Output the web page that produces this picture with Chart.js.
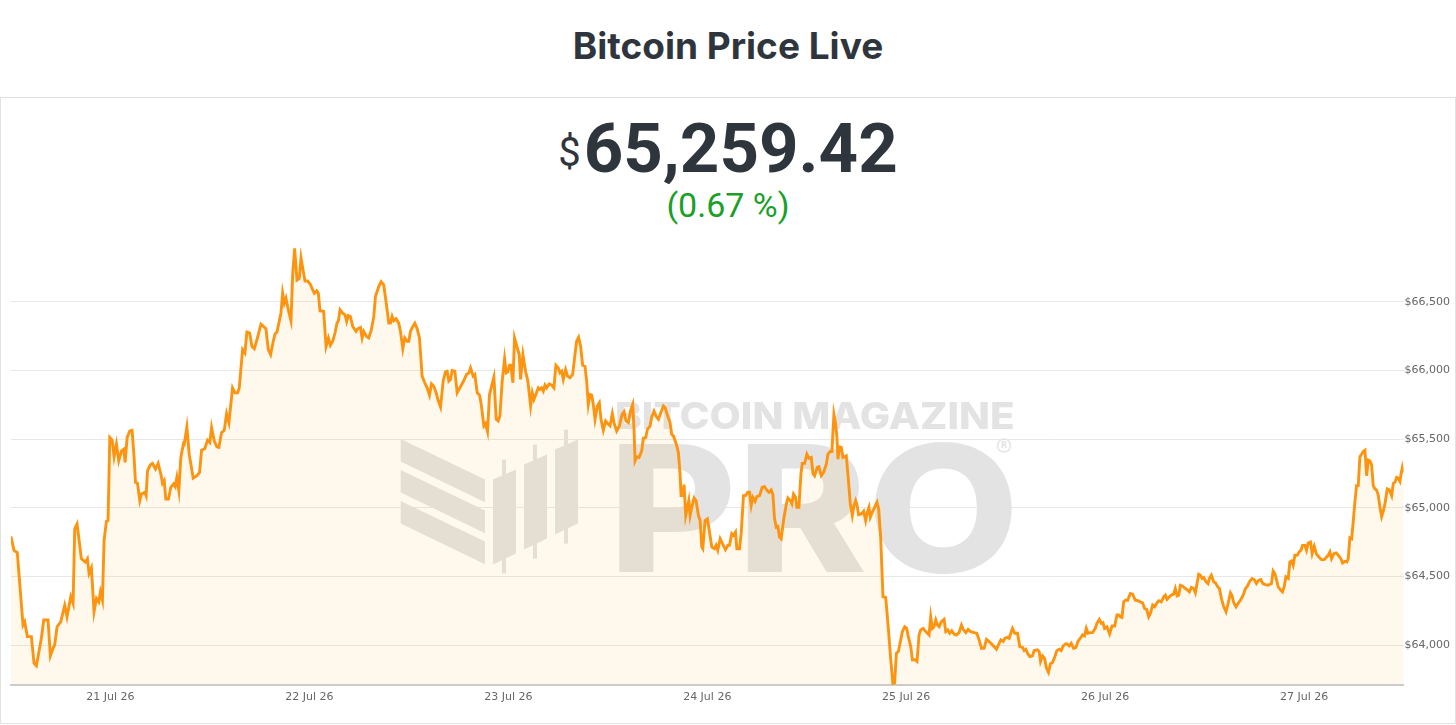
<!DOCTYPE html>
<html>
<head>
<meta charset="utf-8">
<title>Bitcoin Price Live</title>
<script src="https://cdn.jsdelivr.net/npm/chart.js@4.4.1/dist/chart.umd.min.js"></script>
<style>
  html, body { margin: 0; padding: 0; background: #fff; }
  body { width: 1456px; height: 725px; position: relative; overflow: hidden; font-family: Roboto, "Noto Sans", sans-serif; color: #2f353d; }
  #title { position: absolute; left: 0; width: 1456px; top: 27px; text-align: center; font-family: Inter, Roboto, sans-serif; font-size: 37px; line-height: 37px; font-weight: 700; }
  #box { position: absolute; left: 0; top: 97px; width: 1454px; height: 625px; border: 1px solid #e2e2e2; }
  #price { position: absolute; left: 0; width: 1456px; top: 114px; text-align: center; font-size: 69px; line-height: 69px; font-weight: 700; }
  #price .cur { font-size: 40px; font-weight: 400; margin-right: 3px; position: relative; top: -6px; }
  #change { position: absolute; left: 0; width: 1456px; top: 188px; text-align: center; font-size: 34px; line-height: 34px; color: #1a9f29; }
  #chart { position: absolute; left: 0; top: 240px; }
</style>
</head>
<body>
<div id="title">Bitcoin Price Live</div>
<div id="box"></div>
<div id="price"><span class="cur">$</span>65,259.42</div>
<div id="change">(0.67 %)</div>
<canvas id="chart" width="1452" height="470"></canvas>
<script>
// hours counted from 21 Jul 26 00:00
const hours = [
  -12.0, -11.64, -11.24, -10.55, -10.35, -10.03, -9.54, -9.22, -8.94, -8.66, -8.34, -8.05, -7.53, -7.25, -6.93, -6.73,
  -6.44, -6.0, -5.52, -5.24, -4.79, -4.51, -4.31, -4.03, -3.51, -3.02, -2.78, -2.58, -2.30, -1.98, -1.69, -1.41, -1.21,
  -0.97, -0.77, -0.49, -0.29, -0.08, 0.20, 0.44, 0.72, 1.0, 1.33, 1.61, 1.77, 2.01, 2.33, 2.61, 2.85, 3.02, 3.26, 3.54,
  3.74, 4.14, 4.30, 4.47, 4.79, 5.07, 5.43, 5.75, 6.08, 6.28, 6.48, 6.68, 7.0, 7.28, 7.61, 7.81, 8.01, 8.25, 8.49, 8.81,
  8.90, 9.22, 9.50, 9.98, 10.43, 10.75, 10.99, 11.39, 11.71, 11.99, 12.20, 12.52, 12.84, 13.08, 13.40, 13.73, 14.01,
  14.29, 14.73, 15.02, 15.34, 15.54, 15.94, 16.22, 16.46, 16.79, 17.07, 17.35, 17.67, 18.16, 18.76, 19.04, 19.32, 19.64,
  19.85, 20.09, 20.57, 20.77, 20.97, 21.17, 21.50, 21.78, 21.98, 22.22, 22.50, 22.78, 22.99, 23.27, 23.47, 23.79, 24.11,
  24.40, 24.60, 24.88, 25.08, 25.28, 25.72, 26.01, 26.29, 26.53, 26.81, 27.09, 27.33, 27.50, 27.70, 28.02, 28.30, 28.50,
  28.70, 28.94, 29.23, 29.63, 29.83,
  30.16, 30.36, 30.56, 30.88, 31.16, 31.48, 31.77, 31.97, 32.37, 32.65, 32.97, 33.30, 33.58, 33.78, 33.98, 34.18, 34.46,
  34.78, 34.99, 35.27, 35.51, 35.79, 35.99, 36.19, 36.48, 36.72, 37.00, 37.28, 37.60, 37.92, 38.21, 38.49, 38.73, 39.01,
  39.29, 39.53, 39.82, 40.14, 40.42, 40.62, 40.82, 41.02, 41.23, 41.55, 41.83, 42.15, 42.63, 42.96, 43.24, 43.44, 43.76,
  43.96, 44.25, 44.53, 44.73, 45.05, 45.25, 45.49, 45.73, 46.26, 46.54, 46.78, 46.98, 47.26, 47.55, 47.75, 47.95, 48.15,
  48.31, 48.55, 48.75, 49.08, 49.32, 49.48, 49.76, 50.08, 50.36, 50.69, 50.89, 51.09,
  51.41, 51.61, 51.81, 52.01, 52.22, 52.42, 52.62, 52.94, 53.22, 53.50, 53.74, 54.03, 54.23, 54.43, 54.63, 54.91, 55.15,
  55.44, 55.76, 56.04, 56.24, 56.48, 56.72, 56.97, 57.25, 57.45, 57.65, 57.85, 58.05, 58.25, 58.46, 58.74, 58.98, 59.18,
  59.46, 59.74, 59.99, 60.27, 60.55, 60.75, 61.07, 61.40, 61.72, 61.96, 62.20, 62.48, 62.76, 63.01, 63.17, 63.29, 63.49,
  63.77, 64.09, 64.29, 64.58, 64.78, 65.10, 65.30, 65.58, 65.82, 66.11, 66.39, 66.71, 66.91, 67.23, 67.51, 67.71, 67.92,
  68.24, 68.52, 68.72, 68.84, 69.04, 69.20, 69.40, 69.61, 69.77, 69.93, 70.13, 70.41, 70.65, 70.94, 71.14, 71.34, 71.46,
  71.74, 72.02, 72.27, 72.55,
  72.67, 72.87, 73.07, 73.27, 73.56, 73.88, 74.20, 74.48, 74.68, 74.96, 75.17, 75.41, 75.57, 75.89, 76.09, 76.37, 76.62,
  76.90, 77.10, 77.30, 77.50, 77.78, 77.98, 78.31, 78.63, 78.91, 79.23, 79.43, 79.71, 79.92, 80.12, 80.32, 80.52, 80.72,
  80.92, 81.20, 81.53, 81.73, 82.01, 82.21, 82.41, 82.65, 82.81, 83.06, 83.30, 83.46, 83.74, 84.02, 84.26, 84.55, 84.75,
  84.95, 85.27, 85.47, 85.76, 86.04, 86.36, 86.56, 86.84, 87.04, 87.28, 87.48, 87.65, 87.77, 87.97, 88.17, 88.37, 88.57,
  88.77, 88.97, 89.26, 89.50, 89.70, 89.90, 90.06, 90.26, 90.58, 90.87, 91.11, 91.31, 91.51, 91.67, 91.91, 92.20, 92.48,
  92.68, 92.92, 93.20, 93.52, 93.68, 93.93, 94.13,
  94.41, 94.60, 94.82, 95.06, 95.26, 95.54, 95.82, 96.06, 96.26, 96.55, 96.75, 97.07, 97.31, 97.55, 97.75, 98.04, 98.36,
  98.76, 98.96, 99.16, 99.36, 99.57, 99.77, 99.97, 100.25, 100.57, 100.77, 101.02, 101.26, 101.50, 101.78, 102.06,
  102.38, 102.67, 102.87, 103.19, 103.47, 103.79, 104.20, 104.52, 104.80, 105.08, 105.40, 105.69, 106.01, 106.33,
  106.61, 106.89, 107.13, 107.42, 107.70, 107.94, 108.22, 108.42, 108.62, 108.83, 109.11, 109.43, 109.71, 110.03,
  110.23, 110.44, 110.64, 110.92, 111.24, 111.44, 111.85, 112.05, 112.21, 112.45, 112.69, 112.93, 113.17, 113.41,
  113.66, 113.94, 114.18, 114.46, 114.70, 114.94,
  115.19, 115.39, 115.67, 115.91, 116.20, 116.48, 116.72, 117.00, 117.28, 117.52, 117.73, 117.93, 118.21, 118.49,
  118.81, 119.01, 119.30, 119.54, 119.74, 119.94, 120.22, 120.54, 120.83, 121.15, 121.43, 121.63, 121.83, 122.03,
  122.24, 122.44, 122.72, 123.04, 123.32, 123.64, 123.97, 124.25, 124.53, 124.77, 125.01, 125.26, 125.46, 125.74,
  125.98, 126.26, 126.46, 126.78, 127.07, 127.27, 127.47, 127.75, 127.99, 128.27, 128.47, 128.68, 128.88, 129.08,
  129.36, 129.68, 129.96, 130.17, 130.41, 130.69, 130.89, 131.09, 131.29, 131.50, 131.70, 131.90, 132.18, 132.42,
  132.58, 132.82, 133.11, 133.31, 133.59, 133.79, 134.03, 134.31, 134.59, 134.84, 135.12, 135.32, 135.52, 135.80,
  136.04, 136.33,
  136.65, 136.93, 137.17, 137.46, 137.74, 137.98, 138.26, 138.54, 138.79, 139.03, 139.35, 139.67, 140.07, 140.27,
  140.48, 140.68, 140.88, 141.20, 141.40, 141.60, 141.81, 142.09, 142.29, 142.49, 142.69, 142.89, 143.17, 143.41,
  143.62, 143.82, 144.10, 144.30, 144.50, 144.78, 144.98, 145.23, 145.51, 145.79, 146.11, 146.43, 146.72, 146.92,
  147.12, 147.32, 147.60, 147.88, 148.13, 148.45, 148.65, 148.93, 149.17, 149.33, 149.53, 149.74, 149.94, 150.14,
  150.34, 150.54, 150.74, 150.94, 151.14, 151.35, 151.55, 151.75, 151.95, 152.15, 152.35, 152.55, 152.75, 152.96,
  153.16, 153.36, 153.56, 153.76, 154.04, 154.29, 154.57, 154.77, 154.97, 155.17, 155.37, 155.57, 155.70, 155.86, 156.0
];

const prices = [
  64792, 64691, 64674, 64147, 64171, 64063, 64063, 63870, 63850, 63942, 64051, 64184, 64184, 63923, 63978, 64002,
  64135, 64171, 64292, 64208, 64353, 64304, 64848, 64884, 64630, 64606, 64630, 64522, 64563, 64244, 64341, 64316, 64389,
  64328, 64763, 64901, 64908, 65512, 65493, 65372, 65464, 65343, 65415, 65427, 65331, 65512, 65560, 65565, 65367, 65186, 65179, 65053,
  65101, 65114, 65089, 65270, 65312, 65324, 65283, 65324, 65246, 65179, 65198, 65065, 65065, 65150, 65174, 65155, 65222, 65126, 65367, 65469,
  65464, 65589, 65391, 65217, 65234, 65258, 65420, 65432, 65493, 65476, 65585, 65488, 65444, 65440, 65548, 65565, 65686,
  65621, 65874, 65838, 65838, 65874, 66152, 66128, 66280, 66273, 66176, 66159, 66224, 66338, 66304, 66152, 66116, 66213,
  66266, 66280, 66418, 66563, 66490, 66527, 66430, 66362, 66696, 66889, 66659, 66671, 66821, 66720, 66652, 66652, 66628,
  66587, 66563, 66580, 66563, 66435, 66430, 66176, 66237, 66184, 66213, 66273, 66345, 66362, 66442, 66418, 66406, 66357,
  66401, 66394, 66321, 66285, 66304,
  66314, 66237, 66285, 66249, 66237, 66297, 66394, 66539, 66611, 66647, 66623, 66478, 66345, 66345, 66394, 66362, 66377,
  66345, 66285, 66159, 66237, 66213, 66213, 66285, 66321, 66345, 66304, 66237, 65959, 65911, 65874, 65821, 65903, 65886,
  65838, 65783, 65734, 65923, 65990, 65995, 65923, 65935, 66000, 65995, 65838, 65874, 65927, 65971, 65983, 66019, 65959,
  65971, 65838, 65821, 65754, 65597, 65614, 65556, 65826, 65952, 65645, 65633, 65669, 65923, 66087, 65983, 65990, 66039,
  66039, 65911, 66237, 66164, 66116, 65935, 66116, 65995, 65923, 65742, 65838, 65790,
  65840, 65874, 65862, 65874, 65850, 65894, 65874, 65903, 65894, 65874, 66039, 66019, 65983, 65995, 65935, 66007, 65959,
  65947, 65971, 66116, 66213, 66242, 66176, 66039, 66032, 65923, 65754, 65826, 65821, 65754, 65645, 65742, 65766, 65645,
  65565, 65633, 65614, 65597, 65686, 65621, 65560, 65597, 65681, 65700, 65633, 65621, 65710, 65754, 65565, 65343, 65372,
  65367, 65415, 65507, 65512, 65572, 65597, 65662, 65705, 65669, 65645, 65693, 65742, 65730, 65669, 65621, 65536, 65524,
  65469, 65403, 65246, 65089, 65089, 65169, 64944, 65005, 65053, 64944, 65005, 65072, 65053, 64944, 64908, 64715, 64703,
  64908, 64920, 64824, 64715,
  64710, 64703, 64727, 64691, 64775, 64734, 64696, 64727, 64727, 64812, 64800, 64824, 64703, 64703, 64812, 65089, 65089,
  65114, 65114, 65017, 65077, 65048, 65082, 65089, 65150, 65155, 65126, 65114, 65131, 65097, 64920, 64860, 64865, 64787,
  64775, 64908, 65024, 65072, 65053, 65029, 65101, 65077, 65005, 65005, 65246, 65324, 65324, 65391, 65362, 65367, 65251,
  65234, 65295, 65300, 65234, 65258, 65319, 65391, 65411, 65411, 65681, 65614, 65512, 65355, 65444, 65440, 65367, 65372,
  65379, 65246, 65029, 64944, 65017, 65053, 65024, 64951, 64956, 64976, 64908, 64968, 65005, 64932, 64968, 65005, 65041,
  64993, 64787, 64353, 64348, 64244, 64060, 63900,
  63712, 63725, 63942, 63954, 64014, 64099, 64135, 64123, 64063, 63990, 63894, 63894, 63882, 64075, 64111, 64123, 64099,
  64075, 64208, 64123, 64135, 64184, 64147, 64135, 64171, 64188, 64099, 64111, 64087, 64106, 64082, 64075,
  64092, 64147, 64116, 64092, 64116, 64099, 64092, 64087, 64039, 63978, 63978, 64043, 64027, 64007,
  63990, 63971, 64002, 64039, 64027, 64051, 64058, 64051, 64087, 64123, 64087, 64087, 63990, 63985,
  63961, 63971, 63942, 63918, 63923, 63961, 63966, 63954, 63882, 63923, 63906, 63833, 63802, 63865,
  63874, 63918, 63961, 63971, 63961, 63995,
  64008, 64010, 63995, 64014, 63978, 63985, 64027, 64051, 64075, 64068, 64123, 64087, 64092, 64092,
  64123, 64159, 64188, 64159, 64164, 64123, 64135, 64082, 64140, 64140, 64220, 64220, 64208, 64203,
  64316, 64328, 64328, 64377, 64372, 64328, 64324, 64316, 64309, 64268, 64261, 64208, 64232, 64292,
  64280, 64309, 64324, 64316, 64353, 64365, 64334, 64353, 64365, 64372, 64413, 64360, 64365, 64437,
  64430, 64413, 64401, 64389, 64421, 64413, 64382, 64449, 64517, 64510, 64486, 64493, 64461, 64449,
  64486, 64510, 64461, 64454, 64425, 64413, 64341, 64280, 64244, 64304, 64382, 64360, 64309, 64280,
  64304, 64328,
  64365, 64413, 64430, 64468, 64486, 64478, 64449, 64473, 64478, 64449, 64442, 64437, 64449, 64541,
  64522, 64478, 64425, 64401, 64389, 64425, 64498, 64486, 64606, 64613, 64582, 64655, 64655, 64679,
  64691, 64727, 64727, 64691, 64744, 64751, 64667, 64720, 64662, 64643, 64623, 64623, 64643, 64655,
  64679, 64630, 64667, 64672, 64655, 64630, 64599, 64611, 64606, 64630, 64782, 64775, 64903, 65048,
  65162, 65162, 65372, 65391, 65411, 65420, 65234, 65348, 65343, 65314, 65162, 65138, 65131, 65089,
  65005, 64937, 64976, 65029, 65138, 65131, 65089, 65179, 65186, 65222, 65217, 65193, 65246, 65295, 65259
];

const xTicks = [0, 24, 48, 72, 96, 120, 144];
const xLabels = ['21 Jul 26', '22 Jul 26', '23 Jul 26', '24 Jul 26', '25 Jul 26', '26 Jul 26', '27 Jul 26'];
const yTicks = [64000, 64500, 65000, 65500, 66000, 66500];

const points = hours.map((h, i) => ({ x: h, y: prices[i] }));

// Bitcoin Magazine Pro watermark, drawn behind the line
const watermark = {
  id: 'watermark',
  beforeDatasetsDraw(chart) {
    const ctx = chart.ctx;
    const a = chart.chartArea;
    const ox = a.left, oy = a.top;
    ctx.save();
    ctx.fillStyle = '#e3e3e3';

    const poly = (pts, dx, dy) => {
      ctx.beginPath();
      pts.forEach((p, i) => {
        const px = ox + p[0] + dx, py = oy + p[1] + dy;
        if (i === 0) ctx.moveTo(px, py); else ctx.lineTo(px, py);
      });
      ctx.closePath();
      ctx.fill();
    };
    // stripes
    const stripe = [[389.7, 191.3], [474, 232], [474, 254.7], [389.7, 214]];
    poly(stripe, 0, 0);
    poly(stripe, 0, 31);
    poly(stripe, 0, 62);
    // candles
    const body = [[482, 232], [505, 222], [505, 306], [482, 317]];
    const wick = [[491, 212], [495, 212], [495, 326], [491, 326]];
    for (let k = 0; k < 3; k++) {
      poly(body, 31 * k, -15 * k);
      poly(wick, 31 * k, -15 * k);
    }

    const fitText = (t, left, top, w, cap) => {
      ctx.font = '800 100px Inter, "DejaVu Sans", sans-serif';
      ctx.textBaseline = 'alphabetic';
      const m = ctx.measureText(t);
      const mw = m.actualBoundingBoxLeft + m.actualBoundingBoxRight;
      const mh = m.actualBoundingBoxAscent;
      ctx.save();
      ctx.translate(ox + left, oy + top + cap);
      ctx.scale(w / mw, cap / mh);
      ctx.fillText(t, m.actualBoundingBoxLeft, 0);
      ctx.restore();
    };
    fitText('BITCOIN MAGAZINE', 606, 154, 396, 27);
    fitText('PRO', 607, 194, 395, 130);

    // registered mark
    ctx.strokeStyle = '#e3e3e3';
    ctx.lineWidth = 1.5;
    ctx.beginPath();
    ctx.arc(ox + 993, oy + 198, 6.5, 0, Math.PI * 2);
    ctx.stroke();
    ctx.font = 'bold 8px "DejaVu Sans", sans-serif';
    ctx.textAlign = 'center';
    ctx.textBaseline = 'middle';
    ctx.fillText('R', ox + 993, oy + 198.5);
    ctx.restore();
  }
};

const ctx = document.getElementById('chart').getContext('2d');
new Chart(ctx, {
  type: 'line',
  data: {
    datasets: [{
      data: points,
      borderColor: '#fd9410',
      borderWidth: 2.9,
      pointRadius: 0,
      tension: 0,
      fill: 'start',
      backgroundColor: 'rgba(255, 150, 0, 0.07)'
    }]
  },
  options: {
    responsive: false,
    animation: false,
    layout: { padding: { left: 11, top: 6, right: 1, bottom: 0 } },
    plugins: {
      legend: { display: false },
      tooltip: { enabled: false }
    },
    scales: {
      x: {
        type: 'linear',
        min: -12,
        max: 156,
        afterBuildTicks: (scale) => { scale.ticks = xTicks.map(v => ({ value: v })); },
        grid: { color: 'rgba(0,0,0,0)', drawTicks: false },
        border: { display: true, color: '#cccccc', width: 2 },
        ticks: {
          autoSkip: false,
          maxRotation: 0,
          padding: 6,
          color: '#666666',
          font: { family: '"DejaVu Sans", Verdana, sans-serif', size: 11 },
          callback: (v) => xLabels[xTicks.indexOf(v)]
        }
      },
      y: {
        position: 'right',
        min: 63712,
        max: 66895,
        afterBuildTicks: (scale) => { scale.ticks = yTicks.map(v => ({ value: v })); },
        grid: { color: '#e8e8e8', drawTicks: false },
        border: { display: false },
        ticks: {
          padding: 1,
          color: '#666666',
          font: { family: '"DejaVu Sans", Verdana, sans-serif', size: 11 },
          callback: (v) => '$' + v.toLocaleString('en-US')
        }
      }
    }
  },
  plugins: [watermark]
});
</script>
</body>
</html>
